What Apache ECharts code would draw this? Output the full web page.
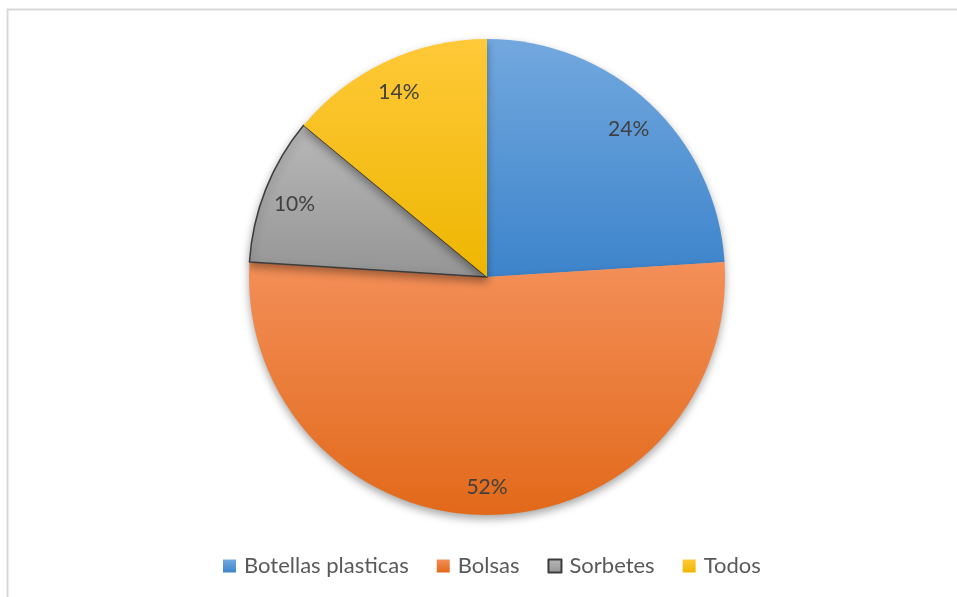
<!DOCTYPE html>
<html>
<head>
<meta charset="utf-8">
<script src="https://cdn.jsdelivr.net/npm/echarts@6/dist/echarts.min.js"></script>
<style>
  html, body { margin: 0; padding: 0; background: #fff; }
  #chart { width: 957px; height: 597px; }
</style>
</head>
<body>
<div id="chart"></div>
<script>
// Share of plastic waste types
const categories = ['Botellas plasticas', 'Bolsas', 'Sorbetes', 'Todos'];
const shares = [24, 52, 10, 14];

// Vertical gradient per slice: lighter on top, deeper below
const sliceColors = [
  ['#72a8de', '#3d84cb'],
  ['#f38f58', '#e2691a'],
  ['#b8b8b8', '#959595'],
  ['#ffc939', '#eeb600']
];

function grad(pair) {
  return new echarts.graphic.LinearGradient(0, 0, 0, 1, [
    { offset: 0, color: pair[0] },
    { offset: 1, color: pair[1] }
  ]);
}

const pieData = categories.map((name, i) => ({
  name: name,
  value: shares[i],
  itemStyle: {
    color: grad(sliceColors[i]),
    borderColor: name === 'Sorbetes' ? '#3c3c3c' : 'transparent',
    borderWidth: name === 'Sorbetes' ? 1.5 : 0
  }
}));

const labelData = categories.map((name, i) => ({ name: name, value: shares[i] }));

const chart = echarts.init(document.getElementById('chart'), null, { renderer: 'canvas' });

chart.setOption({
  animation: false,
  backgroundColor: '#ffffff',
  graphic: [{
    type: 'rect',
    silent: true,
    shape: { x: 7.5, y: 9.5, width: 1000, height: 700 },
    style: { fill: 'none', stroke: '#d9d9d9', lineWidth: 2 }
  }],
  legend: {
    data: categories,
    bottom: 15,
    left: 218,
    itemWidth: 13,
    itemHeight: 13,
    itemGap: 28,
    icon: 'rect',
    textStyle: { fontFamily: 'Lato', fontSize: 22, color: '#595959', padding: [0, 0, 0, 3] }
  },
  series: [
    {
      type: 'pie',
      center: [487, 277],
      radius: [0, 238],
      startAngle: 90,
      clockwise: true,
      label: { show: false },
      labelLine: { show: false },
      emphasis: { disabled: true },
      itemStyle: {
        shadowBlur: 8,
        shadowOffsetY: 4,
        shadowColor: 'rgba(0,0,0,0.35)'
      },
      data: pieData
    },
    {
      // label ring: places the percentage texts near the outer edge
      type: 'pie',
      silent: true,
      center: [487, 280],
      radius: [170, 238],
      startAngle: 90,
      clockwise: true,
      itemStyle: { color: 'transparent' },
      emphasis: { disabled: true },
      labelLine: { show: false },
      label: {
        show: true,
        position: 'inside',
        formatter: p => p.value + '%',
        fontFamily: 'Lato',
        fontSize: 21,
        color: '#404040'
      },
      data: labelData
    }
  ]
});
</script>
</body>
</html>
